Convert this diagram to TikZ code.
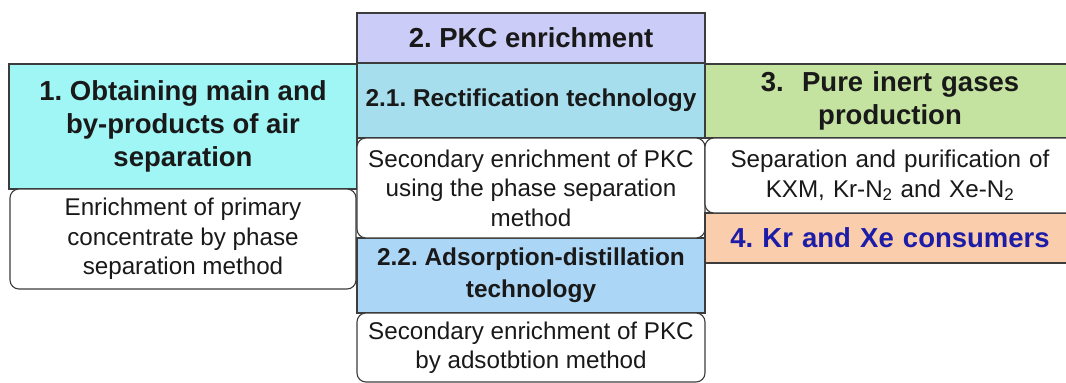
\documentclass[tikz,border=0pt]{standalone}
\usepackage{fontspec}
\setmainfont{Liberation Sans}
\frenchspacing
\definecolor{cA}{RGB}{160,245,245}
\definecolor{cP}{RGB}{204,204,248}
\definecolor{cB}{RGB}{166,222,238}
\definecolor{cC}{RGB}{172,214,246}
\definecolor{cG}{RGB}{196,226,160}
\definecolor{cO}{RGB}{250,206,172}
\definecolor{ln}{RGB}{60,60,60}
\definecolor{tx}{RGB}{25,25,25}
\definecolor{tb}{RGB}{28,28,168}
\tikzset{
  box/.style={draw=ln, line width=1.1pt, inner sep=0pt, outer sep=0pt, align=center, text=tx},
  head/.style={box, font=\frenchspacing\fontsize{27.5}{33}\selectfont\bfseries},
  subhead/.style={box, font=\frenchspacing\fontsize{24.4}{32}\selectfont\bfseries},
  note/.style={box, fill=white, rounded corners=9pt, font=\frenchspacing\fontsize{24.2}{29.5}\selectfont}
}
\begin{document}
\begin{tikzpicture}[x=1pt,y=-1pt]
\useasboundingbox (0,0) rectangle (1066,383);
\clip (0,0) rectangle (1066,383);
\fill[white] (0,0) rectangle (1066,383);
% column 1
\node[head, fill=cA, minimum width=348pt, minimum height=125pt] (b1) at (183,126.5)
  {1. Obtaining main and\\by-products of air\\separation};
\node[note, minimum width=346pt, minimum height=100pt] (w1) at (183,239)
  {Enrichment of primary\\concentrate by phase\\separation method};
% column 2
\node[head, fill=cP, minimum width=348pt, minimum height=50pt] (b2) at (531,38)
  {2. PKC enrichment};
\node[subhead, fill=cB, minimum width=348pt, minimum height=75pt] (b21) at (531,100.5)
  {2.1. Rectification technology};
\node[subhead, fill=cC, minimum width=348pt, minimum height=75pt] (b22) at (531,275.5)
  {2.2. Adsorption-distillation\\technology};
\node[note, minimum width=348pt, minimum height=100pt] (w21) at (531,188)
  {Secondary enrichment of PKC\\using the phase separation\\method};
\node[note, minimum width=348pt, minimum height=69pt] (w22) at (531,347.5)
  {Secondary enrichment of PKC\\by adsotbtion method};
% column 3
\node[head, fill=cG, minimum width=370pt, minimum height=74pt, text width=360pt] (b3) at (890,101)
  {3.\ \ Pure inert gases\\production};
\node[head, fill=cO, minimum width=370pt, minimum height=50pt, text width=360pt, text=tb] (b4) at (890,238)
  {4. Kr and Xe consumers};
\node[note, minimum width=370pt, minimum height=75pt, text width=360pt] (w3) at (890,175.5)
  {Separation and purification of\\KXM, Kr-N\textsubscript{2} and Xe-N\textsubscript{2}};
\end{tikzpicture}
\end{document}
